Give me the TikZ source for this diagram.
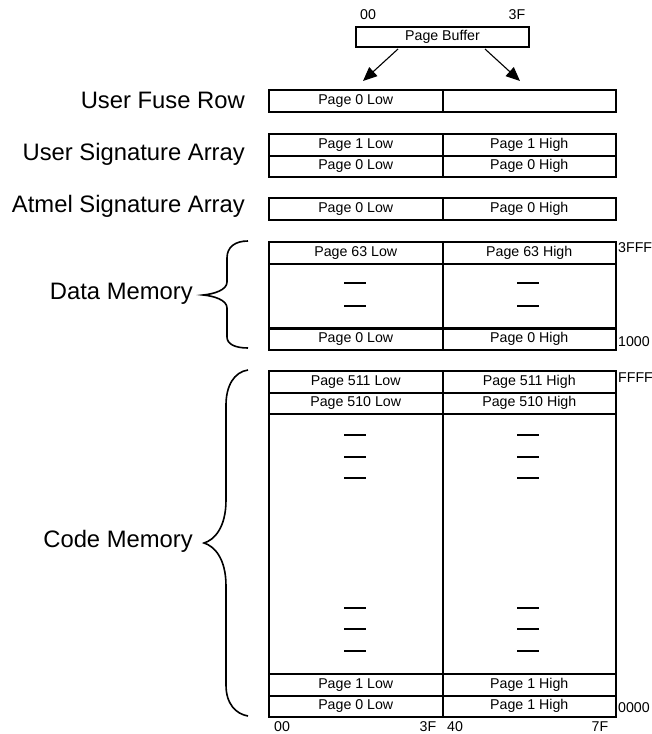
\documentclass[tikz,border=0pt]{standalone}
\usepackage{fontspec}
\setmainfont{Liberation Sans}
\usetikzlibrary{arrows.meta,calc}
\tikzset{
  x=1pt, y=-1pt,
  cell/.style={draw, line width=2pt, minimum width=173.5pt, minimum height=21.5pt,
    inner sep=0pt, anchor=north west, text height=10pt, text depth=3pt,
    font=\fontsize{14.2}{16}\selectfont},
  big/.style={draw, line width=2pt, minimum width=173.5pt, inner sep=0pt, anchor=north west},
  addr/.style={inner sep=0pt, font=\fontsize{14.2}{16}\selectfont},
  lbl/.style={inner sep=0pt, anchor=east, font=\fontsize{23.8}{27}\selectfont},
  gapmark/.style={line width=2pt},
  brc/.style={line width=1.6pt},
  arr/.style={line width=1.1pt, -{Triangle[length=14pt,width=12pt]}}
}
\begin{document}
\begin{tikzpicture}
\useasboundingbox (0,0) rectangle (652,734);
% page buffer
\node[draw, line width=2pt, minimum width=173pt, minimum height=20pt, inner sep=0pt,
  anchor=north west, text height=10pt, text depth=3pt,
  font=\fontsize{14.2}{16}\selectfont] (pb) at (355,26) {Page Buffer};
\node[addr] (pb00) at (368,15) {00};
\node[addr] (pb3F) at (517,15) {3F};
% fuse row
\node[cell] (f0) at (268,89) {Page 0 Low};
\node[cell] (f1) at (441.5,89) {};
\coordinate (a1s) at (398,49);
\coordinate (a1e) at (363,81);
\coordinate (a2s) at (485,49);
\coordinate (a2e) at (520,81);
\draw[arr] (a1s) -- (a1e);
\draw[arr] (a2s) -- (a2e);
\node[lbl] (lfuse) at (245,100) {User Fuse Row};
% user signature
\node[cell] (s1l) at (268,133) {Page 1 Low};
\node[cell] (s1h) at (441.5,133) {Page 1 High};
\node[cell] (s0l) at (268,154.5) {Page 0 Low};
\node[cell] (s0h) at (441.5,154.5) {Page 0 High};
\node[lbl] (lsig) at (245,154) {User Signature Array};
% atmel signature
\node[cell] (a0l) at (268,197) {Page 0 Low};
\node[cell] (a0h) at (441.5,197) {Page 0 High};
\node[lbl] (latm) at (245,206) {Atmel Signature Array};
% data memory
\node[cell] (d63l) at (268,241) {Page 63 Low};
\node[cell] (d63h) at (441.5,241) {Page 63 High};
\node[big, minimum height=65pt] (dml) at (268,262.5) {};
\node[big, minimum height=65pt] (dmh) at (441.5,262.5) {};
\node[cell] (d0l) at (268,327) {Page 0 Low};
\node[cell] (d0h) at (441.5,327) {Page 0 High};
\foreach \yy in {283,306}{
  \draw[gapmark] (344,\yy) -- (366,\yy);
  \draw[gapmark] (517,\yy) -- (539,\yy);
}
\node[addr, anchor=west] (a3fff) at (618,248) {3FFF};
\node[addr, anchor=west] (a1000) at (618,342) {1000};
\draw[brc] (248,241) .. controls (235,241) and (227,247) .. (227,258)
  -- (227,282) .. controls (227,290) and (214,294) .. (203,295)
  .. controls (214,296) and (227,300) .. (227,308)
  -- (227,337) .. controls (227,344) and (235,348) .. (248,348);
\node[lbl] (ldata) at (193,294) {Data Memory};
% code memory
\node[cell] (c511l) at (268,370) {Page 511 Low};
\node[cell] (c511h) at (441.5,370) {Page 511 High};
\node[cell] (c510l) at (268,391.5) {Page 510 Low};
\node[cell] (c510h) at (441.5,391.5) {Page 510 High};
\node[big, minimum height=260pt] (cml) at (268,413) {};
\node[big, minimum height=260pt] (cmh) at (441.5,413) {};
\node[cell] (c1l) at (268,673) {Page 1 Low};
\node[cell] (c1h) at (441.5,673) {Page 1 High};
\node[cell] (c0l) at (268,694.5) {Page 0 Low};
\node[cell] (c0h) at (441.5,694.5) {Page 1 High};
\foreach \yy in {435,457,478,608,629,651}{
  \draw[gapmark] (344,\yy) -- (366,\yy);
  \draw[gapmark] (517,\yy) -- (539,\yy);
}
\node[addr, anchor=west] (affff) at (618,378) {FFFF};
\node[addr, anchor=west] (a0000) at (618,708) {0000};
\node[addr] (b00) at (282,727) {00};
\node[addr] (b3F) at (428,727) {3F};
\node[addr] (b40) at (455,727) {40};
\node[addr] (b7F) at (600,727) {7F};
\draw[brc] (248,370) .. controls (234,372) and (226,386) .. (226,405)
  -- (226,500) .. controls (226,528) and (214,540) .. (204,543)
  .. controls (214,546) and (226,558) .. (226,586)
  -- (226,685) .. controls (226,704) and (236,714) .. (248,716);
\node[lbl] (lcode) at (193,541) {Code Memory};
\end{tikzpicture}
\end{document}
